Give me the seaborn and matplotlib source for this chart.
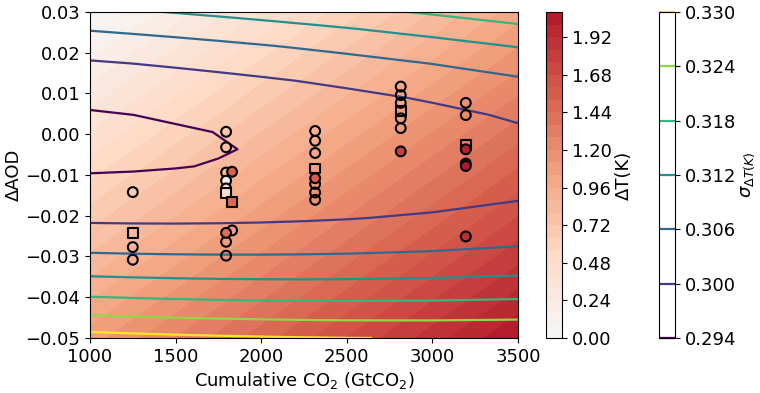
import numpy as np
import pandas as pd
import matplotlib
matplotlib.use("Agg")
import matplotlib.pyplot as plt
from matplotlib.colors import ListedColormap, Normalize
import seaborn as sns

# ---------------- data ----------------
# grid for the fitted sigma field
grid_co2 = [1000, 1250, 1500, 1750, 2000, 2250, 2500, 3000, 3500]
grid_aod = [0.03000, 0.02579, 0.02158, 0.01737, 0.01316, 0.00895, 0.00474,
            0.00053, -0.00368, -0.00789, -0.01211, -0.01632, -0.02053,
            -0.02474, -0.02895, -0.03316, -0.03737, -0.04158, -0.04579, -0.05000]

# sigma of Delta T (rows: grid_aod, columns: grid_co2)
sigma_table = [
    [0.31064, 0.31141, 0.31225, 0.31316, 0.31413, 0.31518, 0.31629, 0.31871, 0.32139],
    [0.30634, 0.30705, 0.30783, 0.30868, 0.30960, 0.31059, 0.31165, 0.31397, 0.31655],
    [0.30260, 0.30325, 0.30396, 0.30475, 0.30561, 0.30655, 0.30755, 0.30976, 0.31224],
    [0.29944, 0.30002, 0.30067, 0.30140, 0.30220, 0.30307, 0.30401, 0.30610, 0.30848],
    [0.29688, 0.29739, 0.29798, 0.29864, 0.29937, 0.30018, 0.30106, 0.30303, 0.30528],
    [0.29494, 0.29538, 0.29590, 0.29649, 0.29715, 0.29789, 0.29870, 0.30055, 0.30268],
    [0.29362, 0.29399, 0.29444, 0.29496, 0.29555, 0.29622, 0.29697, 0.29867, 0.30067],
    [0.29294, 0.29324, 0.29361, 0.29406, 0.29458, 0.29518, 0.29585, 0.29742, 0.29928],
    [0.29290, 0.29312, 0.29342, 0.29380, 0.29425, 0.29477, 0.29537, 0.29680, 0.29852],
    [0.29350, 0.29365, 0.29387, 0.29417, 0.29455, 0.29500, 0.29553, 0.29681, 0.29838],
    [0.29474, 0.29481, 0.29496, 0.29519, 0.29549, 0.29587, 0.29632, 0.29745, 0.29887],
    [0.29661, 0.29661, 0.29668, 0.29684, 0.29706, 0.29737, 0.29774, 0.29872, 0.29999],
    [0.29909, 0.29902, 0.29902, 0.29910, 0.29925, 0.29948, 0.29978, 0.30061, 0.30173],
    [0.30218, 0.30204, 0.30197, 0.30197, 0.30205, 0.30221, 0.30243, 0.30311, 0.30408],
    [0.30585, 0.30564, 0.30550, 0.30543, 0.30544, 0.30552, 0.30568, 0.30620, 0.30702],
    [0.31008, 0.30980, 0.30960, 0.30946, 0.30940, 0.30941, 0.30949, 0.30987, 0.31054],
    [0.31486, 0.31451, 0.31424, 0.31404, 0.31391, 0.31385, 0.31386, 0.31410, 0.31462],
    [0.32015, 0.31974, 0.31940, 0.31914, 0.31894, 0.31881, 0.31876, 0.31886, 0.31924],
    [0.32593, 0.32546, 0.32506, 0.32474, 0.32448, 0.32428, 0.32416, 0.32413, 0.32437],
    [0.33217, 0.33165, 0.33120, 0.33081, 0.33049, 0.33023, 0.33005, 0.32988, 0.32998],
]

# Delta T plane (corner values)
dT_co2 = [1000, 3500]
dT_aod = [0.03, -0.05]
dT_table = [[0.00, 1.00],
            [1.08, 2.08]]

# model points
pt_co2 = [1250, 1250, 1250, 1250,
          1795, 1795, 1795, 1830, 1795, 1795, 1795, 1830, 1830, 1795, 1795, 1795,
          2315, 2315, 2315, 2315, 2315, 2315, 2315, 2315,
          2815, 2815, 2815, 2815, 2815, 2815, 2815,
          3195, 3195, 3195, 3195, 3195, 3195, 3195]
pt_aod = [-0.0142, -0.0242, -0.0277, -0.0308,
          0.0006, -0.0032, -0.0094, -0.0092, -0.0114, -0.0133, -0.0145, -0.0166,
          -0.0236, -0.0242, -0.0264, -0.0298,
          0.0008, -0.0016, -0.0046, -0.0084, -0.0108, -0.0122, -0.0143, -0.0161,
          0.0117, 0.0096, 0.0077, 0.0057, 0.0039, 0.0015, -0.0042,
          0.0077, 0.0047, -0.0026, -0.0037, -0.0072, -0.0078, -0.0251]
pt_shape = ['circle', 'square', 'circle', 'circle',
            'circle', 'circle', 'circle', 'circle', 'circle', 'circle', 'square', 'square',
            'circle', 'circle', 'circle', 'circle',
            'circle', 'circle', 'circle', 'square', 'circle', 'circle', 'circle', 'circle',
            'circle', 'circle', 'circle', 'square', 'circle', 'circle', 'circle',
            'circle', 'circle', 'square', 'circle', 'circle', 'circle', 'circle']
nan = np.nan
pt_dT = [nan, nan, nan, nan,
         nan, nan, nan, 1.55, 0.10, 0.45, 0.45, 1.50,
         nan, 1.45, nan, nan,
         nan, nan, nan, nan, 1.58, nan, nan, nan,
         nan, nan, nan, nan, nan, nan, 1.78,
         nan, nan, nan, 2.02, 2.05, 2.05, 1.90]

dT_levels = np.linspace(0, 2.08, 27)
dT_ticks = [0.00, 0.24, 0.48, 0.72, 0.96, 1.20, 1.44, 1.68, 1.92]
sigma_levels = [0.294, 0.300, 0.306, 0.312, 0.318, 0.324, 0.330]

# ---------------- plot ----------------
plt.rcParams['font.size'] = 13
plt.rcParams['font.family'] = ['DejaVu Sans']

cmap = ListedColormap(plt.get_cmap('RdBu_r')(np.linspace(0.5, 0.9, 256)))
norm = Normalize(vmin=0, vmax=2.08)

fig = plt.figure(figsize=(7.6, 3.93), dpi=100)
ax = fig.add_axes([0.1184, 0.14, 0.5632, 0.8295])
cax1 = fig.add_axes([0.7184, 0.14, 0.0211, 0.8295])
cax2 = fig.add_axes([0.8671, 0.14, 0.0211, 0.8295])

cf = ax.contourf(np.array(dT_co2), np.array(dT_aod), np.array(dT_table),
                 levels=dT_levels, cmap=cmap, norm=norm)
cs = ax.contour(np.array(grid_co2), np.array(grid_aod), np.array(sigma_table),
                levels=sigma_levels, cmap='viridis', linewidths=1.6)

df = pd.DataFrame({'co2': pt_co2, 'aod': pt_aod, 'shape': pt_shape, 'dT': pt_dT})
marker_map = {'circle': 'o', 'square': 's'}
for shp in ['circle', 'square']:
    sub = df[df['shape'] == shp]
    hollow = sub[sub['dT'].isna()]
    filled = sub[sub['dT'].notna()]
    sns.scatterplot(data=hollow, x='co2', y='aod', marker=marker_map[shp], s=50,
                    facecolors='none', edgecolor='black', linewidth=1.5,
                    ax=ax, zorder=3, legend=False)
    sns.scatterplot(data=filled, x='co2', y='aod', hue='dT', palette=cmap,
                    hue_norm=norm, marker=marker_map[shp], s=50,
                    edgecolor='black', linewidth=1.5, ax=ax, zorder=4, legend=False)

ax.set_xlim(1000, 3500)
ax.set_ylim(-0.05, 0.03)
ax.set_xticks([1000, 1500, 2000, 2500, 3000, 3500])
ax.set_yticks([-0.05, -0.04, -0.03, -0.02, -0.01, 0.00, 0.01, 0.02, 0.03])
ax.set_xlabel('Cumulative CO$_2$ (GtCO$_2$)', labelpad=3)
ax.set_ylabel('ΔAOD', labelpad=2)

cb1 = fig.colorbar(cf, cax=cax1, ticks=dT_ticks)
cb1.ax.set_yticklabels([f'{t:.2f}' for t in dT_ticks])
cb1.set_label('ΔT(K)', labelpad=2)
cb2 = fig.colorbar(cs, cax=cax2)
cb2.set_ticks(sigma_levels)
cb2.ax.set_yticklabels([f'{t:.3f}' for t in sigma_levels])
cb2.set_label(r'$\sigma_{\Delta T(K)}$', labelpad=2)

fig.savefig('out.png', dpi=100)
